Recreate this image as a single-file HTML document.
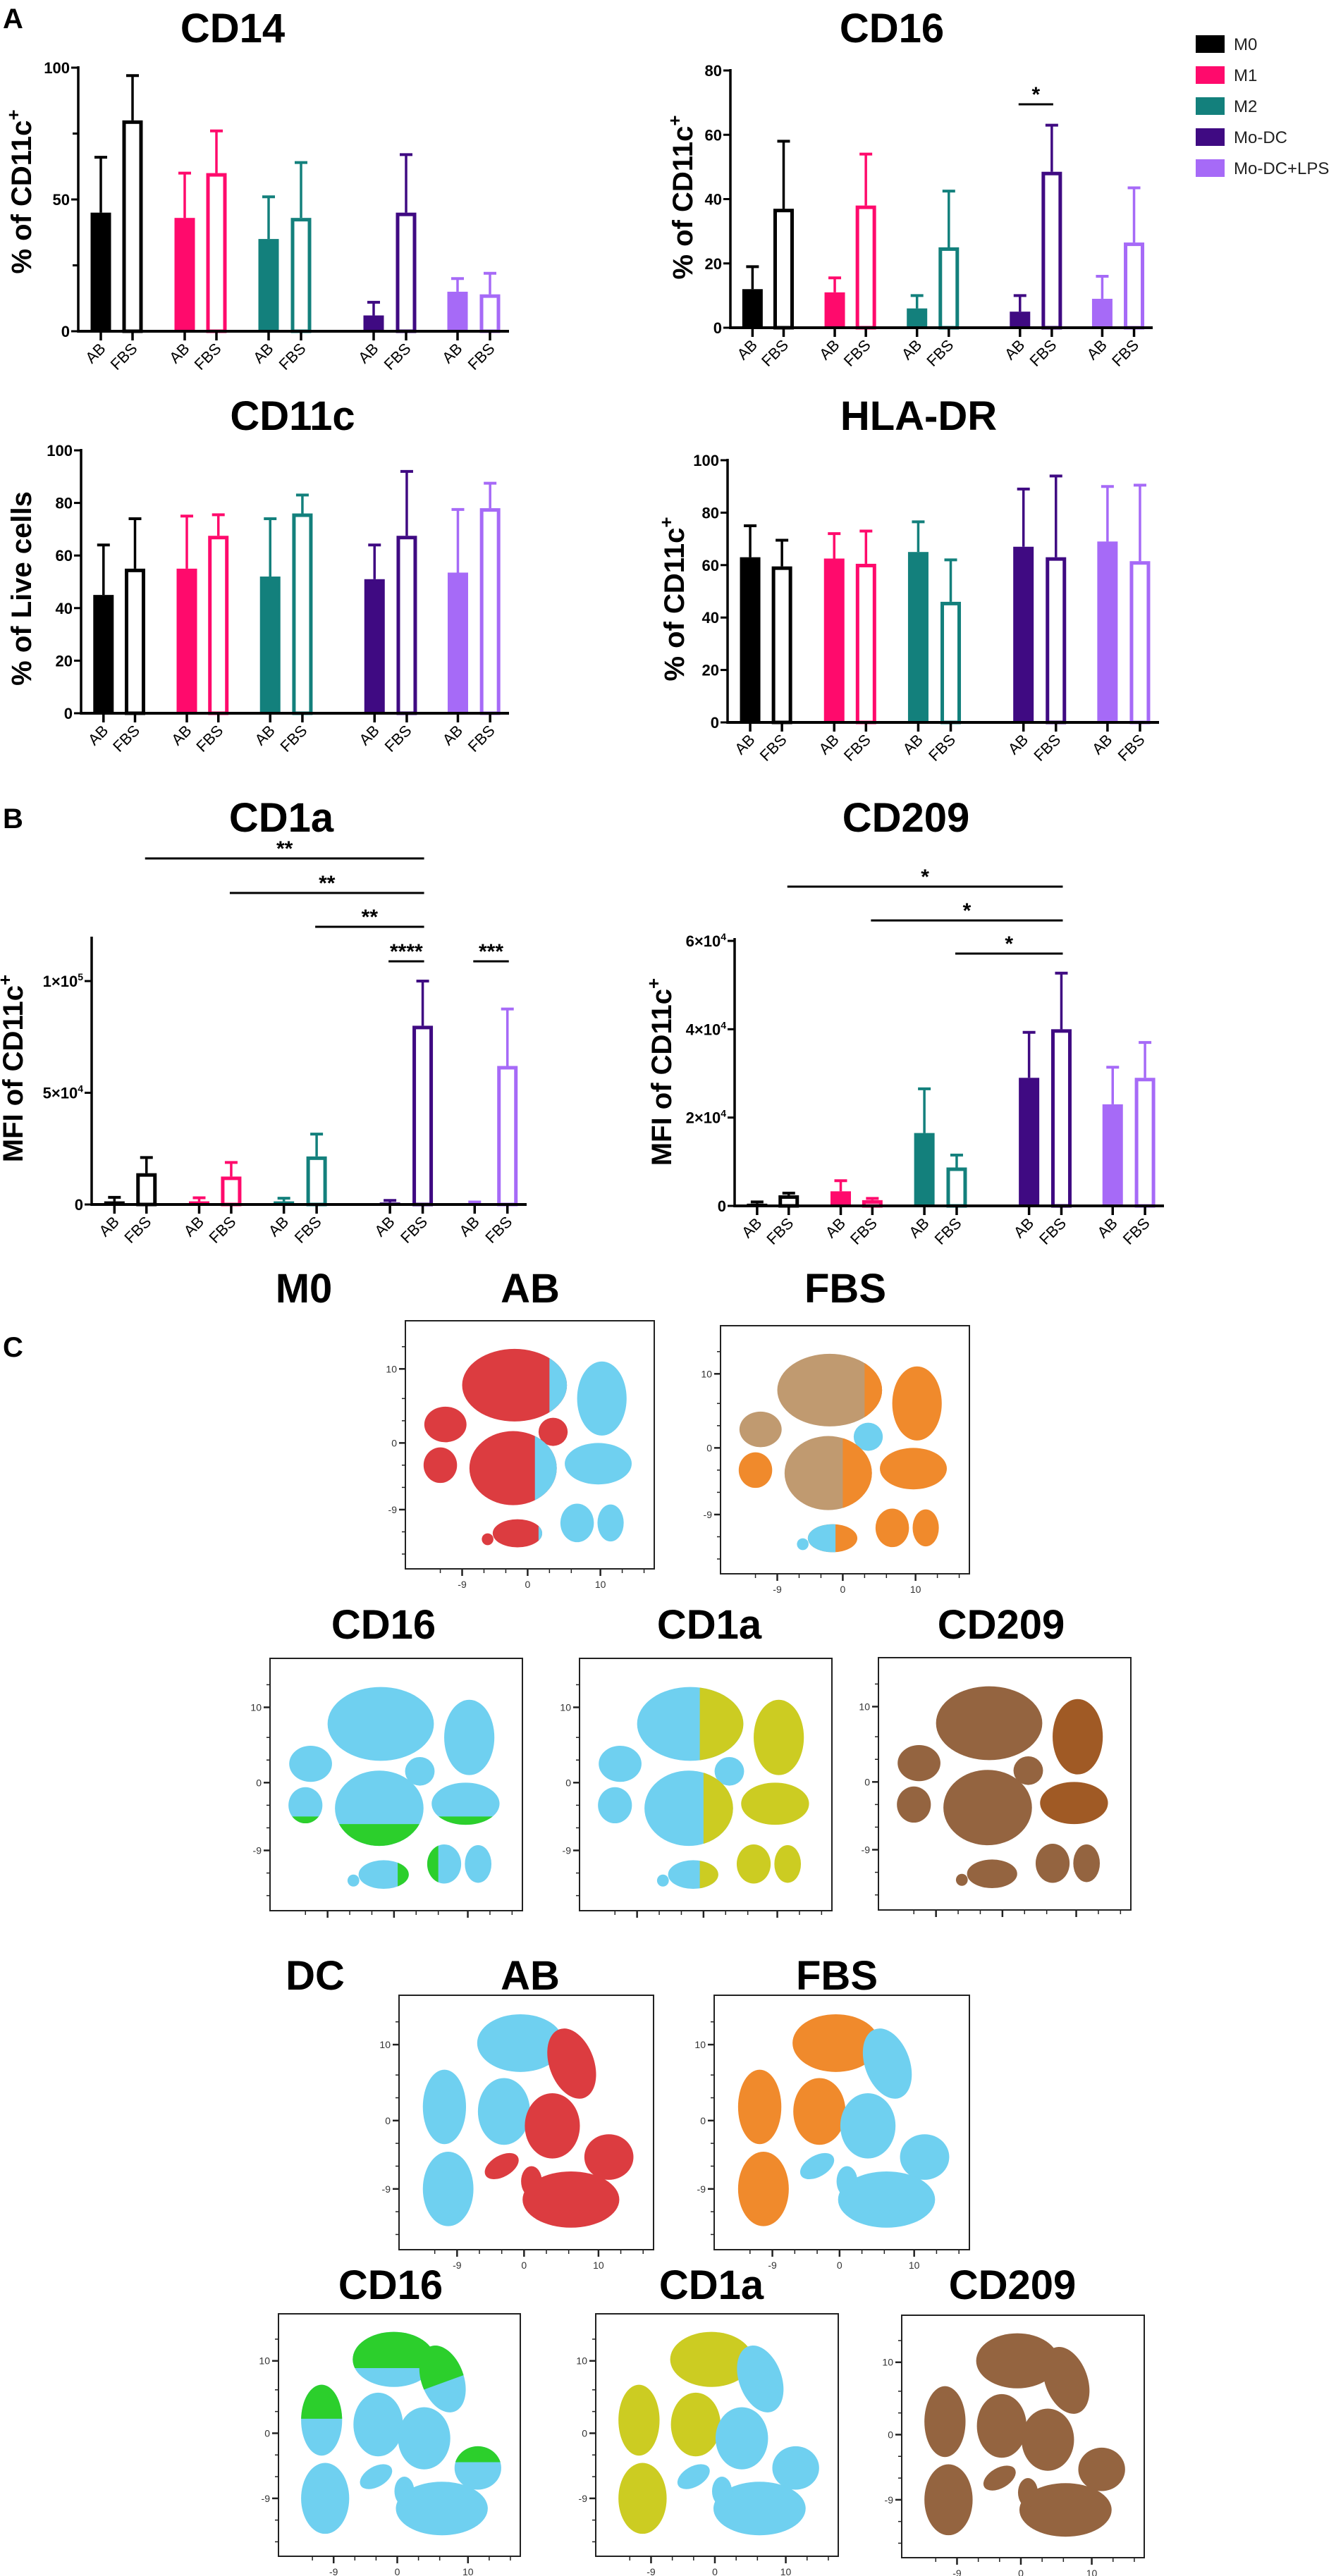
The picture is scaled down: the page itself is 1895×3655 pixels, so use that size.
<!DOCTYPE html>
<html><head><meta charset="utf-8">
<style>
html,body{margin:0;padding:0;background:#fff;}
svg{display:block;}
text{font-family:"Liberation Sans",Arial,sans-serif;}
</style></head>
<body>
<svg id="fig" xmlns="http://www.w3.org/2000/svg" width="1895" height="3655" viewBox="0 0 1895 3655">
<rect x="0" y="0" width="1895" height="3655" fill="#fff"/>
<text x="4" y="40" font-size="40" font-weight="bold">A</text>
<text x="4" y="1175" font-size="40" font-weight="bold">B</text>
<text x="4" y="1925" font-size="40" font-weight="bold">C</text>
<g id="legend"></g>
<g id="charts"></g>
<g id="scatters"></g>
</svg>
<script>
// ---------- Bar chart data ----------
const groups = ["M0","M1","M2","Mo-DC","Mo-DC+LPS"];
const groupColors = ["#000000","#ff0a6c","#13807c","#3f0a82","#a66af7"];

const cd14AB = [45,43,35,6,15];
const cd14ABsd = [21,17,16,5,5];
const cd14FBS = [80,60,43,45,14];
const cd14FBSsd = [17,16,21,22,8];

const cd16AB = [12,11,6,5,9];
const cd16ABsd = [7,4.5,4,5,7];
const cd16FBS = [37,38,25,48.5,26.5];
const cd16FBSsd = [21,16,17.5,14.5,17];

const cd11cAB = [45,55,52,51,53.5];
const cd11cABsd = [19,20,22,13,24];
const cd11cFBS = [55,67.5,76,67.5,78];
const cd11cFBSsd = [19,8,7,24.5,9.5];

const hladrAB = [63,62.5,65,67,69];
const hladrABsd = [12,9.5,11.5,22,21];
const hladrFBS = [59.5,60.5,46,63,61.5];
const hladrFBSsd = [10,12.5,16,31,29];

const cd1aAB = [1400,1400,1400,900,600];
const cd1aABsd = [1800,1600,1400,900,500];
const cd1aFBS = [14000,12500,21500,80000,62000];
const cd1aFBSsd = [7000,6300,10000,20000,25500];

const cd209AB = [500,3300,16500,29000,23000];
const cd209ABsd = [400,2400,10000,10300,8400];
const cd209FBS = [2400,1300,8700,40000,29000];
const cd209FBSsd = [500,400,2800,12700,8000];

const cd14Ticks = [0,50,100];
const cd16Ticks = [0,20,40,60,80];
const pctTicks = [0,20,40,60,80,100];
const cd1aTicks = [0,50000,100000];
const cd1aTickLabels = [["0",""],["5×10","4"],["1×10","5"]];
const cd209Ticks = [0,20000,40000,60000];
const cd209TickLabels = [["0",""],["2×10","4"],["4×10","4"],["6×10","4"]];

const cd1aSigLabels = ["**","**","**","****","***"];
const cd1aSigFrom = [1,3,5,6,8];
const cd1aSigTo = [7,7,7,7,9];
const cd209SigLabels = ["*","*","*"];
const cd209SigFrom = [1,3,5];
const cd209SigTo = [7,7,7];
const cd16SigLabels = ["*"];
const cd16SigFrom = [6];
const cd16SigTo = [7];

const NS = "http://www.w3.org/2000/svg";
function mk(tag, attrs, parent){
  const e = document.createElementNS(NS, tag);
  for (const k in attrs) e.setAttribute(k, attrs[k]);
  if (parent) parent.appendChild(e);
  return e;
}
const fig = document.getElementById("fig");

// legend
const lg = document.getElementById("legend");
groups.forEach((g,i)=>{
  const r = mk("rect",{x:1696,y:50+i*44,width:41,height:25,fill:groupColors[i]},lg);
  
  
  const t = mk("text",{x:1750,y:71+i*44,"font-size":24,fill:"#222"},lg);
  t.textContent = g;
  
  
});

const offsets = [32,77,151,196,270,316,419,465,538,584];

function barChart(cfg){
  const g = mk("g",{},document.getElementById("charts"));
  
  
  const x0 = cfg.axisX, y0 = cfg.y0;
  const k = (cfg.axisEnd - x0)/611;
  const yS = v => y0 - (v/cfg.refVal)*(y0-cfg.refY);
  const xS = i => x0 + offsets[i]*k;
  // title
  const tt = mk("text",{x:cfg.titleX,y:cfg.titleY,"font-size":58,"font-weight":"bold","text-anchor":"middle"},g);
  tt.textContent = cfg.title;
  
  
  // y label
  const yl = mk("text",{x:0,y:0,"font-size":40,"font-weight":"bold","text-anchor":"middle",
    transform:`translate(${cfg.ylX},${cfg.ylY}) rotate(-90)`},g);
  yl.textContent = cfg.ylabel;
  if (cfg.ysup){ const s = mk("tspan",{"font-size":26,dy:-16},yl); s.textContent = "+"; }
  
  
  // axes
  const ya = mk("line",{x1:x0,y1:cfg.axisTop,x2:x0,y2:y0+2,stroke:"#000","stroke-width":3.5},g);
  
  
  cfg.ticks.forEach((v,i)=>{
    const y = yS(v);
    mk("line",{x1:x0-10,y1:y,x2:x0,y2:y,stroke:"#000","stroke-width":3},g);
    const t = mk("text",{x:x0-12,y:y+8,"font-size":22,"font-weight":"bold","text-anchor":"end"},g);
    if (cfg.tickLabels){ t.textContent = cfg.tickLabels[i][0];
      if (cfg.tickLabels[i][1]) { const s = mk("tspan",{"font-size":14,dy:-9},t); s.textContent = cfg.tickLabels[i][1]; }
    } else t.textContent = String(v);
    
    
  });
  (cfg.minor||[]).forEach(v=>{ const y=yS(v); mk("line",{x1:x0-8,y1:y,x2:x0,y2:y,stroke:"#000","stroke-width":3},g); });
  // bars
  for (let gi=0; gi<5; gi++){
    const col = groupColors[gi];
    [[cfg.ab,cfg.absd,0],[cfg.fbs,cfg.fbssd,1]].forEach(([m,sd,isF])=>{
      const i = gi*2+isF, cx = xS(i), top = yS(m[gi]), errTop = yS(m[gi]+sd[gi]);
      mk("line",{x1:cx,y1:top,x2:cx,y2:errTop,stroke:col,"stroke-width":3.5},g);
      mk("line",{x1:cx-9,y1:errTop,x2:cx+9,y2:errTop,stroke:col,"stroke-width":4},g);
      let b;
      if (!isF) b = mk("rect",{x:cx-14.5,y:top,width:29,height:Math.max(y0-top,1),fill:col},g);
      else b = mk("rect",{x:cx-12,y:top+2.5,width:24,height:Math.max(y0-top-2.5,0.5),fill:"#fff",stroke:col,"stroke-width":5},g);
      
      
      mk("line",{x1:cx,y1:y0,x2:cx,y2:y0+13,stroke:"#000","stroke-width":3.5},g);
      const lt = mk("text",{x:0,y:0,"font-size":22,"text-anchor":"end",
        transform:`translate(${cx+8},${y0+26}) rotate(-45)`},g);
      lt.textContent = isF ? "FBS" : "AB";
      
      
    });
  }
  const xa = mk("line",{x1:x0,y1:y0,x2:cfg.axisEnd,y2:y0,stroke:"#000","stroke-width":4},g);
  
  
  // significance
  if (cfg.sigL){
    cfg.sigL.forEach((lab,i)=>{
      const y = cfg.sigY[i];
      const l = mk("line",{x1:xS(cfg.sigF[i])-2,y1:y,x2:xS(cfg.sigT[i])+2,y2:y,stroke:"#000","stroke-width":3},g);
      
      
      const t = mk("text",{x:(xS(cfg.sigF[i])+xS(cfg.sigT[i]))/2,y:y-4,"font-size":30,"font-weight":"bold","text-anchor":"middle"},g);
      t.textContent = lab;
      
      
    });
  }
}

barChart({name:"cd14",title:"CD14",titleX:330,titleY:60,axisX:111,axisEnd:722,y0:470,refVal:100,refY:96,axisTop:94,
  ticks:cd14Ticks,minor:[25,75],ab:cd14AB,absd:cd14ABsd,fbs:cd14FBS,fbssd:cd14FBSsd,
  ylabel:"% of  CD11c",ysup:true,ylX:44,ylY:272});
barChart({name:"cd16",title:"CD16",titleX:1265,titleY:60,axisX:1036,axisEnd:1635,y0:465,refVal:80,refY:100,axisTop:98,
  ticks:cd16Ticks,ab:cd16AB,absd:cd16ABsd,fbs:cd16FBS,fbssd:cd16FBSsd,
  ylabel:"% of  CD11c",ysup:true,ylX:982,ylY:280,
  sigL:cd16SigLabels,sigF:cd16SigFrom,sigT:cd16SigTo,sigY:[148]});
barChart({name:"cd11c",title:"CD11c",titleX:415,titleY:610,axisX:115,axisEnd:722,y0:1012,refVal:100,refY:639,axisTop:637,
  ticks:pctTicks,ab:cd11cAB,absd:cd11cABsd,fbs:cd11cFBS,fbssd:cd11cFBSsd,
  ylabel:"% of Live cells",ysup:false,ylX:44,ylY:835});
barChart({name:"hla-dr",title:"HLA-DR",titleX:1303,titleY:610,axisX:1032,axisEnd:1644,y0:1025,refVal:100,refY:653,axisTop:651,
  ticks:pctTicks,ab:hladrAB,absd:hladrABsd,fbs:hladrFBS,fbssd:hladrFBSsd,
  ylabel:"% of  CD11c",ysup:true,ylX:970,ylY:850});
barChart({name:"cd1a",title:"CD1a",titleX:399,titleY:1180,axisX:130,axisEnd:747,y0:1709,refVal:100000,refY:1392,axisTop:1329,
  ticks:cd1aTicks,tickLabels:cd1aTickLabels,ab:cd1aAB,absd:cd1aABsd,fbs:cd1aFBS,fbssd:cd1aFBSsd,
  ylabel:"MFI of CD11c",ysup:true,ylX:32,ylY:1516,
  sigL:cd1aSigLabels,sigF:cd1aSigFrom,sigT:cd1aSigTo,sigY:[1218,1267,1315,1364,1364]});
barChart({name:"cd209",title:"CD209",titleX:1285,titleY:1180,axisX:1042,axisEnd:1651,y0:1711,refVal:60000,refY:1335,axisTop:1331,
  ticks:cd209Ticks,tickLabels:cd209TickLabels,ab:cd209AB,absd:cd209ABsd,fbs:cd209FBS,fbssd:cd209FBSsd,
  ylabel:"MFI of CD11c",ysup:true,ylX:952,ylY:1521,
  sigL:cd209SigLabels,sigF:cd209SigFrom,sigT:cd209SigTo,sigY:[1258,1306,1353]});

// ---------- t-SNE style plots ----------
const CY="#6fd0f0", RD="#dc3c40", OR="#f08a2c", GR="#2ccf2c", YE="#cccc22", BR="#946440", BD="#a05a25", MX="#c09a70";
// blob shapes: [cx, cy, rx, ry, rotation]
const m0Shapes = [[-1.8,7.8,7.2,4.9,0],[10.2,6,3.4,5,0],[-11.3,2.5,2.9,2.4,0],[3.5,1.5,2,1.9,0],[-2,-3.4,6,5,0],
  [-12,-3,2.3,2.4,0],[9.7,-2.8,4.6,2.8,0],[-1.4,-12.2,3.4,1.9,0],[6.8,-10.8,2.3,2.6,0],[11.4,-10.8,1.8,2.5,0],[-5.5,-13,0.8,0.8,0]];
const dcShapes = [[-0.5,10.2,5.8,3.8,0],[6.4,7.5,3,4.8,20],[-10.7,1.8,2.9,4.9,0],[-2.7,1.2,3.5,4.4,0],[3.8,-0.7,3.7,4.3,0],
  [11.4,-4.8,3.3,3,0],[-10.2,-9,3.4,4.9,0],[6.3,-10.4,6.5,3.7,0],[-3,-6,2.5,1.4,30],[1,-8,1.4,2,0]];
// per-plot base colors (index = blob)
const m0AB = [RD,CY,RD,RD,RD,RD,CY,RD,CY,CY,RD];
const m0FBS = [MX,OR,MX,CY,MX,OR,OR,OR,OR,OR,CY];
const m0CD16 = [CY,CY,CY,CY,CY,CY,CY,CY,CY,CY,CY];
const m0CD1a = [CY,YE,CY,CY,CY,CY,YE,CY,YE,YE,CY];
const m0CD209 = [BR,BD,BR,BR,BR,BR,BD,BR,BR,BR,BR];
const dcAB = [CY,RD,CY,CY,RD,RD,CY,RD,RD,RD];
const dcFBS = [OR,CY,OR,OR,CY,CY,OR,CY,CY,CY];
const dcCD16 = [CY,CY,CY,CY,CY,CY,CY,CY,CY,CY];
const dcCD1a = [YE,CY,YE,YE,CY,CY,YE,CY,CY,CY];
const dcCD209 = [BR,BR,BR,BR,BR,BR,BR,BR,BR,BR];
// overlays: [blob, axis, op, threshold, color]
const m0ABov = [[0,"x",">",3,CY],[4,"x",">",1,CY],[7,"x",">",1.5,CY]];
const m0FBSov = [[0,"x",">",3,OR],[4,"x",">",0,OR],[7,"x","<",-1,CY]];
const m0CD16ov = [[4,"y","<",-5.5,GR],[6,"y","<",-4.5,GR],[7,"x",">",0.5,GR],[8,"x","<",6,GR],[5,"y","<",-4.5,GR]];
const m0CD1aov = [[0,"x",">",-0.5,YE],[4,"x",">",0,YE],[7,"x",">",-0.5,YE]];
const dcCD16ov = [[0,"y",">",9,GR],[1,"y",">",7,GR],[2,"y",">",2,GR],[5,"y",">",-4,GR]];

function scatter(cfg){
  const g = mk("g",{},document.getElementById("scatters"));
  
  
  const {x0,x1,y0,y1} = cfg;
  const xS = v => x0 + (v+16.8)/34.2*(x1-x0);
  const yS = v => y0 + (16.5-v)/33.5*(y1-y0);
  if (cfg.title){
    const t = mk("text",{x:cfg.titleX,y:cfg.titleY,"font-size":58,"font-weight":"bold","text-anchor":"middle"},g);
    t.textContent = cfg.title;
    
    
  }
  const clipId = "clip-"+cfg.name;
  const cp = mk("clipPath",{id:clipId},g);
  mk("rect",{x:x0,y:y0,width:x1-x0,height:y1-y0},cp);
  const body = mk("g",{"clip-path":`url(#${clipId})`},g);
  cfg.shapes.forEach((s,i)=>{
    const e = mk("ellipse",{cx:xS(s[0]),cy:yS(s[1]),rx:s[2]/34.2*(x1-x0),ry:s[3]/33.5*(y1-y0),fill:cfg.colors[i],
      transform:`rotate(${-s[4]} ${xS(s[0])} ${yS(s[1])})`},body);
    
    
  });
  (cfg.ov||[]).forEach((o,j)=>{
    const s = cfg.shapes[o[0]];
    const id = clipId+"-ov"+j;
    const c = mk("clipPath",{id:id},g);
    let r;
    if (o[1]==="x"){ const xp = xS(o[3]); r = o[2]===">" ? {x:xp,y:y0,width:x1-xp,height:y1-y0} : {x:x0,y:y0,width:xp-x0,height:y1-y0}; }
    else { const yp = yS(o[3]); r = o[2]===">" ? {x:x0,y:y0,width:x1-x0,height:yp-y0} : {x:x0,y:yp,width:x1-x0,height:y1-yp}; }
    mk("rect",r,c);
    mk("ellipse",{cx:xS(s[0]),cy:yS(s[1]),rx:s[2]/34.2*(x1-x0),ry:s[3]/33.5*(y1-y0),fill:o[4],"clip-path":`url(#${id})`,
      transform:`rotate(${-s[4]} ${xS(s[0])} ${yS(s[1])})`},body);
  });
  const fr = mk("rect",{x:x0,y:y0,width:x1-x0,height:y1-y0,fill:"none",stroke:"#222","stroke-width":2},g);
  
  
  [-15,-12,-9,-6,-3,0,3,6,10,13].forEach(v=>{
    const y = yS(v), big = (v===10||v===0||v===-9);
    mk("line",{x1:x0-(big?9:5),y1:y,x2:x0,y2:y,stroke:"#222","stroke-width":big?2.5:1.5},g);
    if (big){ const t = mk("text",{x:x0-12,y:y+5,"font-size":14,"text-anchor":"end",fill:"#333"},g); t.textContent = String(v);
        }
  });
  [-12,-9,-6,-3,0,3,6,10,13,16].forEach(v=>{
    const x = xS(v), big = (v===10||v===0||v===-9);
    mk("line",{x1:x,y1:y1,x2:x,y2:y1+(big?10:6),stroke:"#222","stroke-width":big?2.5:1.5},g);
    if (big && cfg.xlabels!==false){ const t = mk("text",{x:x,y:y1+27,"font-size":14,"text-anchor":"middle",fill:"#333"},g); t.textContent = String(v);
        }
  });
}

function label(txt,x,y,name){
  const t = mk("text",{x:x,y:y,"font-size":58,"font-weight":"bold","text-anchor":"middle"},document.getElementById("scatters"));
  t.textContent = txt;
  
  
}
label("M0",431,1848,"m0-row-label");
label("DC",447,2823,"dc-row-label");

scatter({name:"m0-ab",title:"AB",titleX:752,titleY:1848,x0:575,x1:928,y0:1874,y1:2226,shapes:m0Shapes,colors:m0AB,ov:m0ABov});
scatter({name:"m0-fbs",title:"FBS",titleX:1199,titleY:1848,x0:1022,x1:1375,y0:1881,y1:2233,shapes:m0Shapes,colors:m0FBS,ov:m0FBSov});
scatter({name:"m0-cd16",title:"CD16",titleX:544,titleY:2325,x0:383,x1:741,y0:2353,y1:2711,shapes:m0Shapes,colors:m0CD16,ov:m0CD16ov,xlabels:false});
scatter({name:"m0-cd1a",title:"CD1a",titleX:1006,titleY:2325,x0:822,x1:1180,y0:2353,y1:2711,shapes:m0Shapes,colors:m0CD1a,ov:m0CD1aov,xlabels:false});
scatter({name:"m0-cd209",title:"CD209",titleX:1420,titleY:2325,x0:1246,x1:1604,y0:2352,y1:2710,shapes:m0Shapes,colors:m0CD209,xlabels:false});
scatter({name:"dc-ab",title:"AB",titleX:752,titleY:2823,x0:566,x1:927,y0:2831,y1:3192,shapes:dcShapes,colors:dcAB});
scatter({name:"dc-fbs",title:"FBS",titleX:1187,titleY:2823,x0:1013,x1:1375,y0:2831,y1:3192,shapes:dcShapes,colors:dcFBS});
scatter({name:"dc-cd16",title:"CD16",titleX:554,titleY:3262,x0:395,x1:738,y0:3283,y1:3627,shapes:dcShapes,colors:dcCD16,ov:dcCD16ov});
scatter({name:"dc-cd1a",title:"CD1a",titleX:1009,titleY:3262,x0:845,x1:1189,y0:3283,y1:3627,shapes:dcShapes,colors:dcCD1a});
scatter({name:"dc-cd209",title:"CD209",titleX:1436,titleY:3262,x0:1279,x1:1623,y0:3285,y1:3629,shapes:dcShapes,colors:dcCD209});
</script>
</body></html>
